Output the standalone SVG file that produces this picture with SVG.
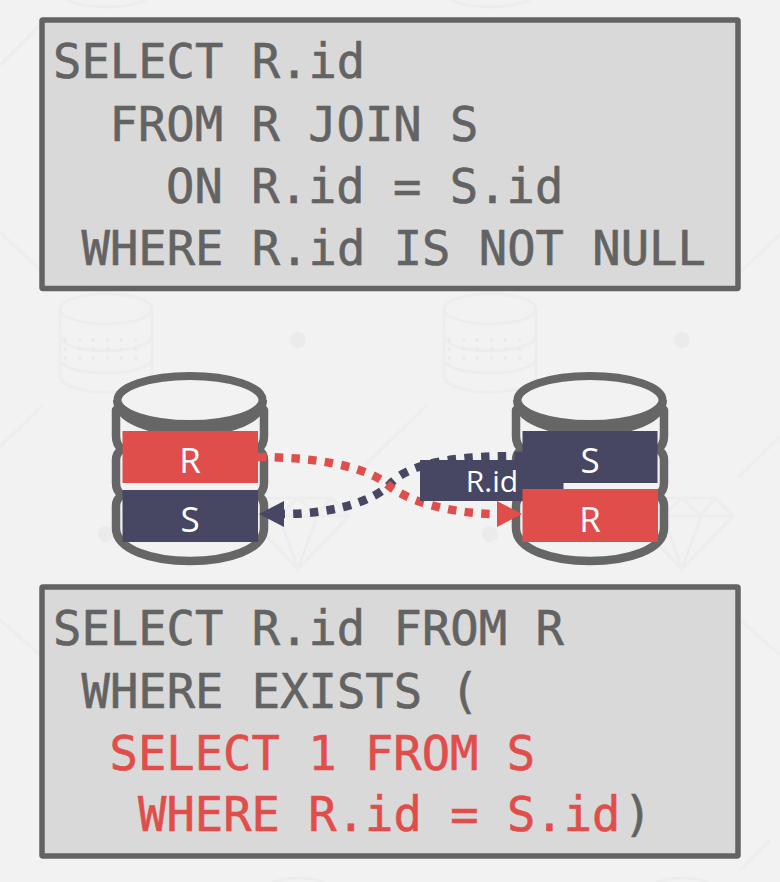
<svg xmlns="http://www.w3.org/2000/svg" width="780" height="882" viewBox="0 0 780 882">
<style>
.box{fill:#d9d9d9;stroke:#636363;stroke-width:5.500;stroke-linejoin:round}
.code{font-family:"DejaVu Sans Mono","Liberation Mono",monospace;font-size:47.150px;fill:#636363;stroke:#636363;stroke-width:.6}
.red{fill:#e04e4b;stroke:#e04e4b}
.lab{font-family:"Open Sans","Noto Sans",sans-serif;font-size:35px;fill:#fff;text-anchor:middle}
.wall{fill:none;stroke:#666;stroke-width:8.500;stroke-linecap:round}
.wm{fill:none;stroke:#ededed;stroke-width:3}
.dot{fill:#ebebeb}
.dash{fill:none;stroke-width:8.500;stroke-dasharray:8.500 8.200}
</style>
<defs>
<marker id="ar" markerUnits="userSpaceOnUse" markerWidth="26" markerHeight="26" refX="0" refY="13" orient="auto"><path d="M0 0L25 13L0 26Z" fill="#e04e4b"/></marker>
<marker id="an" markerUnits="userSpaceOnUse" markerWidth="26" markerHeight="26" refX="0" refY="13" orient="auto"><path d="M0 0L25 13L0 26Z" fill="#474764"/></marker>
<g id="wmdb">
<ellipse class="wm" cx="106" cy="309" rx="46" ry="15"/>
<path class="wm" d="M60 309V375C60 398 152 398 152 375V309M60 335C60 356 152 356 152 335M60 358C60 378 152 378 152 358"/>
<path d="M64 340H148M64 349H148M64 358H148" fill="none" stroke="#e9e9e9" stroke-width="3" stroke-dasharray="3 11"/>
</g>
<g id="wmgem">
<path class="wm" d="M247 516L265 498H331L349 516L298 569ZM247 516H349M265 498L279 516L298 569L317 516L331 498M279 516L298 498L317 516"/>
</g>
<g id="cyl">
<path class="wall" d="M116 410V436Q116 445 122 449Q116 453 116 460V483Q116 491 122 495Q116 499 116 506V528C116 572 264 572 264 528V506Q264 499 258 495Q264 491 264 483V460Q264 453 258 449Q264 445 264 436V410"/>
<path d="M113 400C113 448 267 448 267 400Z" fill="#666"/>
<ellipse cx="190" cy="400" rx="72.500" ry="24" fill="#f2f2f2" stroke="#666" stroke-width="8"/>
</g>
</defs>
<rect width="780" height="882" fill="#f2f2f2"/>
<g id="watermark">
<use href="#wmdb"/><use href="#wmdb" x="384"/>
<ellipse class="wm" cx="106" cy="-8" rx="46" ry="15"/><ellipse class="wm" cx="490" cy="-8" rx="46" ry="15"/>
<ellipse class="wm" cx="298" cy="888" rx="30" ry="10"/><ellipse class="wm" cx="682" cy="888" rx="30" ry="10"/>
<circle class="dot" cx="298" cy="340" r="8"/><circle class="dot" cx="682" cy="340" r="8"/>
<circle class="dot" cx="106" cy="534" r="8"/><circle class="dot" cx="490" cy="534" r="8"/>
<use href="#wmgem"/><use href="#wmgem" x="384"/>
<path class="wm" d="M-31 477L42 406M353 477L427 405M738 477L780 437M170 405L245 480M554 405L628 480M0 232L40 270M780 235L740 272M0 65L40 25M0 620L40 655M740 620L780 655M740 870L770 840"/>
</g>
<g id="query-top">
<rect class="box" x="42" y="20" width="696" height="268.500" rx="1"/>
<text class="code" x="53" y="78">SELECT R.id</text>
<text class="code" x="109.500" y="141">FROM R JOIN S</text>
<text class="code" x="166" y="202.500">ON R.id = S.id</text>
<text class="code" x="81.500" y="264.500">WHERE R.id IS NOT NULL</text>
</g>
<g id="db-left">
<use href="#cyl"/>
<rect x="122.500" y="431" width="135.500" height="52" fill="#e04e4b"/>
<rect x="122.500" y="490" width="135.500" height="52" fill="#474764"/>
<text class="lab" x="190" y="473">R</text>
<text class="lab" x="190" y="532">S</text>
</g>
<g id="db-right">
<use href="#cyl" x="400"/>
</g>
<g id="connectors">
<path class="dash" d="M523 456C465 456 415 460 392 482C375 502 330 514 284 514" stroke="#474764" marker-end="url(#an)"/>
<path class="dash" d="M258 457C310 457 365 465 388 485C405 500 450 514 497 514" stroke="#e04e4b" marker-end="url(#ar)"/>
</g>
<g id="tables-right">
<rect x="522.500" y="431" width="135" height="52" fill="#474764"/>
<rect x="420" y="460" width="143.500" height="41" fill="#474764"/>
<rect x="522.500" y="489" width="135.500" height="53" fill="#e04e4b"/>
<text class="lab" x="590" y="473">S</text>
<text class="lab" x="590" y="532">R</text>
<text class="lab" x="492" y="492" style="font-size:30px">R.id</text>
</g>
<g id="query-bottom">
<rect class="box" x="42" y="587" width="696" height="269" rx="1"/>
<text class="code" x="53" y="645">SELECT R.id FROM R</text>
<text class="code" x="81.500" y="708">WHERE EXISTS (</text>
<text class="code red" x="109.500" y="769.500">SELECT 1 FROM S</text>
<text class="code" x="138" y="830.500"><tspan class="red">WHERE R.id = S.id</tspan><tspan dx="3">)</tspan></text>
</g>
</svg>
